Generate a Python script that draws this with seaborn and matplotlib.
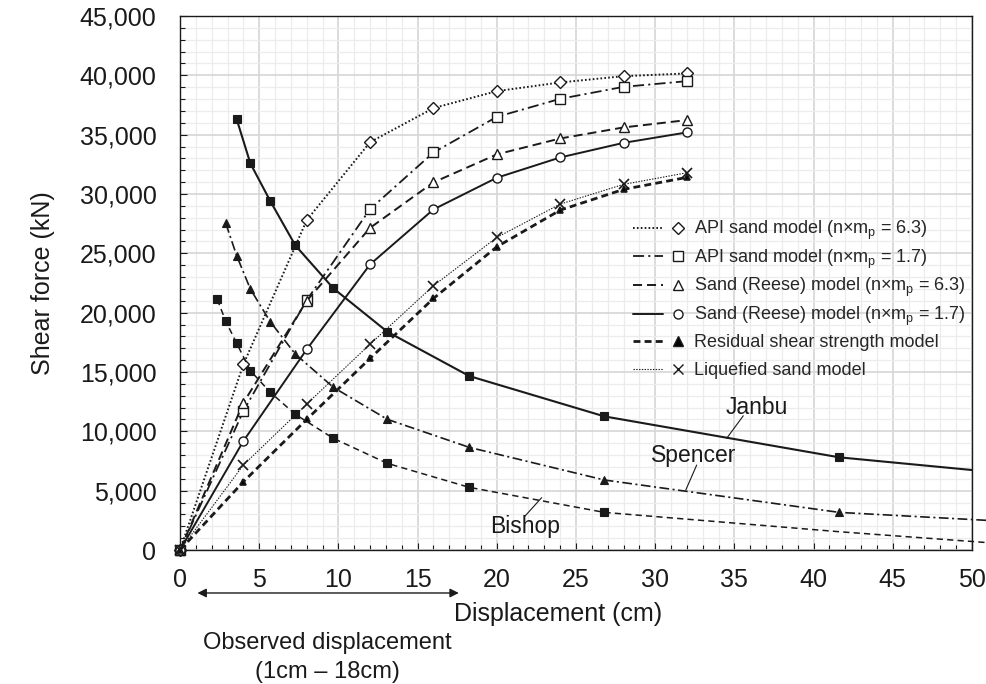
import matplotlib
matplotlib.use("Agg")
import numpy as np
import pandas as pd
import seaborn as sns
import matplotlib.pyplot as plt
from matplotlib.ticker import MultipleLocator, FuncFormatter
from matplotlib.lines import Line2D
from matplotlib.legend_handler import HandlerTuple

# ---------------- data ----------------
disp_pile = [0, 4, 8, 12, 16, 20, 24, 28, 32]
api_63 = [0, 15640, 27800, 34370, 37240, 38670, 39400, 39930, 40160]
api_17 = [0, 11710, 21060, 28730, 33500, 36500, 38020, 39030, 39510]
reese_63 = [0, 12410, 21000, 27150, 30980, 33340, 34680, 35610, 36230]
reese_17 = [0, 9180, 16910, 24070, 28700, 31370, 33080, 34310, 35190]
residual = [0, 5750, 11010, 16150, 21200, 25550, 28640, 30390, 31400]
liquefied = [0, 7160, 12300, 17350, 22270, 26340, 29150, 30810, 31790]

janbu_x = [3.58, 4.44, 5.70, 7.28, 9.68, 13.09, 18.26, 26.79, 41.62, 50.0]
janbu_y = [36290, 32580, 29400, 25670, 22050, 18390, 14660, 11260, 7810, 6740]
spencer_x = [2.89, 3.58, 4.44, 5.70, 7.28, 9.68, 13.09, 18.26, 26.79, 41.62, 51.2]
spencer_y = [27520, 24790, 21990, 19230, 16510, 13710, 11010, 8650, 5900, 3170, 2480]
bishop_x = [2.35, 2.89, 3.58, 4.44, 5.70, 7.28, 9.68, 13.09, 18.26, 26.79, 41.62, 51.2]
bishop_y = [21120, 19270, 17410, 15110, 13290, 11430, 9410, 7300, 5280, 3170, 1540, 600]

legend_labels = [
    r"API sand model (n×m$_\mathregular{p}$ = 6.3)",
    r"API sand model (n×m$_\mathregular{p}$ = 1.7)",
    r"Sand (Reese) model (n×m$_\mathregular{p}$ = 6.3)",
    r"Sand (Reese) model (n×m$_\mathregular{p}$ = 1.7)",
    "Residual shear strength model",
    "Liquefied sand model",
]

# ---------------- style ----------------
sns.set_theme(style="white")
plt.rcParams["font.family"] = ["Liberation Sans", "DejaVu Sans"]
plt.rcParams["mathtext.fontset"] = "custom"
plt.rcParams["mathtext.rm"] = "Liberation Sans"
plt.rcParams["mathtext.it"] = "Liberation Sans:italic"
plt.rcParams["lines.scale_dashes"] = False

fig = plt.figure(figsize=(9.87, 6.84), dpi=100)
ax = fig.add_axes([0.1824, 0.1959, 0.8024, 0.7807])

pile_specs = [
    (api_63, (0, (1.2, 1.6)), 1.4, "D", 6.0, "white", 1.0),
    (api_17, (0, (8, 3, 1.5, 3)), 1.3, "s", 6.5, "white", 1.0),
    (reese_63, (0, (6.5, 3.6)), 1.4, "^", 7.0, "white", 1.0),
    (reese_17, "-", 1.4, "o", 6.5, "white", 1.0),
    (residual, (0, (5, 3)), 2.0, "^", 5.0, "black", 1.2),
    (liquefied, (0, (1, 1)), 0.8, "x", 7.0, "none", 1.2),
]

for vals, ls, lw, mk, ms, mfc, mew in pile_specs:
    sns.lineplot(x=disp_pile, y=vals, ax=ax, color="k", linestyle=ls, linewidth=lw,
                 marker=mk, markersize=ms, markerfacecolor=mfc,
                 markeredgecolor="k", markeredgewidth=mew, clip_on=False, zorder=3)

slope_specs = [
    (janbu_x, janbu_y, "-", 1.5, list(range(9))),
    (spencer_x, spencer_y, (0, (7, 2.5, 1.5, 2.5)), 1.2, list(range(10))),
    (bishop_x, bishop_y, (0, (4.5, 3)), 1.1, list(range(10))),
]
slope_markers = ["s", "^", "s"]
for (xs, ys, ls, lw, me), mk in zip(slope_specs, slope_markers):
    sns.lineplot(x=xs, y=ys, ax=ax, color="k", linestyle=ls, linewidth=lw,
                 marker=mk, markersize=6.2, markerfacecolor="k",
                 markeredgecolor="k", markeredgewidth=0.8, markevery=me,
                 clip_on=False, zorder=3)

# ---------------- axes ----------------
ax.set_xlim(0, 50)
ax.set_ylim(0, 45000)
ax.xaxis.set_major_locator(MultipleLocator(5))
ax.xaxis.set_minor_locator(MultipleLocator(1))
ax.yaxis.set_major_locator(MultipleLocator(5000))
ax.yaxis.set_minor_locator(MultipleLocator(1000))
ax.yaxis.set_major_formatter(FuncFormatter(lambda v, p: f"{v:,.0f}"))

ax.grid(which="major", color="#d6d6d6", linewidth=1.2)
ax.grid(which="minor", color="#ececec", linewidth=0.9)
ax.set_axisbelow(True)
for sp in ax.spines.values():
    sp.set_color("k")
    sp.set_linewidth(1.0)

ax.tick_params(which="both", direction="in", color="k", left=True, bottom=True,
               top=False, right=False, labelsize=18, labelcolor="k")
ax.tick_params(which="major", length=5, width=0.8)
ax.tick_params(which="minor", length=3.5, width=0.8)
ax.tick_params(axis="x", which="major", pad=13)
ax.tick_params(axis="y", which="major", pad=17)

ax.set_ylabel("Shear force (kN)", fontsize=18, color="k", labelpad=18)
ax.set_xlabel("Displacement (cm)", fontsize=18, color="k")
ax.xaxis.set_label_coords(0.477, -0.12)
ax.xaxis.label.set_verticalalignment("center")

# ---------------- legend ----------------
leg_specs = [
    ((0, (1.2, 1.6)), 1.4, "D", 6.0, "white"),
    ((0, (8, 3, 1.5, 3)), 1.3, "s", 6.5, "white"),
    ((0, (6.5, 3.6)), 1.4, "^", 7.0, "white"),
    ("-", 1.4, "o", 6.5, "white"),
    ((0, (5, 3)), 2.0, "^", 6.5, "black"),
    ((0, (1, 1)), 0.8, "x", 7.0, "none"),
]
handles = []
for ls, lw, mk, ms, mfc in leg_specs:
    ln = Line2D([], [], color="k", linestyle=ls, linewidth=lw)
    mkh = Line2D([], [], linestyle="none", marker=mk, markersize=ms,
                 markerfacecolor=mfc, markeredgecolor="k", markeredgewidth=1.0)
    handles.append((ln, mkh))

leg_common = dict(handler_map={tuple: HandlerTuple(ndivide=None, pad=0)},
                  loc="upper left", frameon=False, fontsize=13, borderpad=0,
                  borderaxespad=0, handlelength=3.32, handletextpad=0.05)
leg1 = ax.legend(handles[:4], legend_labels[:4], bbox_to_anchor=(0.572, 0.6199),
                 labelspacing=0.30, **leg_common)
ax.add_artist(leg1)
ax.legend(handles[4:], legend_labels[4:], bbox_to_anchor=(0.572, 0.404),
          labelspacing=0.61, **leg_common)

# ---------------- annotations ----------------
ax.text(36.43, 12050, "Janbu", fontsize=16.5, ha="center", va="center", color="k")
ax.annotate("", xy=(34.51, 9410), xytext=(35.56, 11310),
            arrowprops=dict(arrowstyle="-", color="k", lw=0.8, shrinkA=0, shrinkB=0))
ax.text(32.45, 8000, "Spencer", fontsize=16.5, ha="center", va="center", color="k")
ax.annotate("", xy=(31.93, 5055), xytext=(32.62, 7160),
            arrowprops=dict(arrowstyle="-", color="k", lw=0.8, shrinkA=0, shrinkB=0))
ax.text(21.78, 1940, "Bishop", fontsize=16.5, ha="center", va="center", color="k")
ax.annotate("", xy=(22.83, 4410), xytext=(21.78, 2860),
            arrowprops=dict(arrowstyle="-", color="k", lw=0.8, shrinkA=0, shrinkB=0))

ax.annotate("", xy=(1.1, -0.0805), xytext=(17.6, -0.0805),
            xycoords=("data", "axes fraction"), textcoords=("data", "axes fraction"),
            arrowprops=dict(arrowstyle="<|-|>", color="k", lw=1.0, mutation_scale=13,
                            shrinkA=0, shrinkB=0), annotation_clip=False)
ax.text(9.28, -0.1742, "Observed displacement", transform=ax.get_xaxis_transform(),
        fontsize=17, ha="center", va="center", color="k", clip_on=False)
ax.text(9.28, -0.2285, "(1cm – 18cm)", transform=ax.get_xaxis_transform(),
        fontsize=17, ha="center", va="center", color="k", clip_on=False)

fig.savefig("out.png", dpi=100)
